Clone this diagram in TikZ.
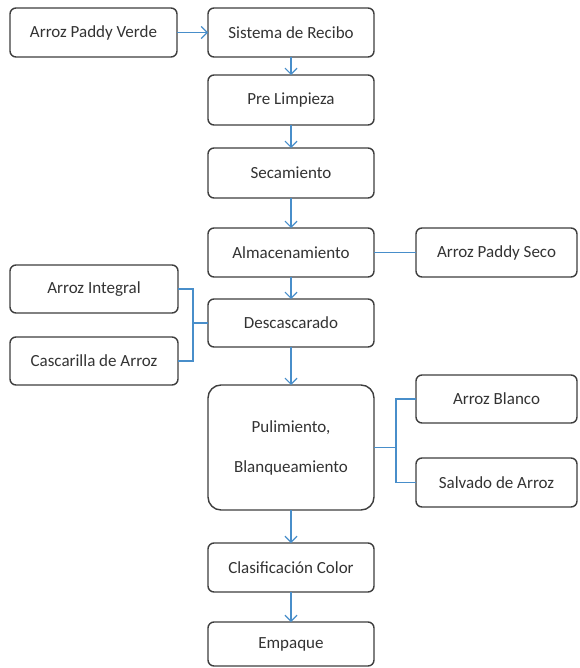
\documentclass[tikz,border=0pt]{standalone}
\usepackage{fontspec}
\setmainfont{Carlito}
\usepackage{tikz}
\usetikzlibrary{arrows.meta, positioning, calc}
\definecolor{marco}{RGB}{62,62,62}
\definecolor{flujo}{RGB}{72,142,202}

\begin{document}
\begin{tikzpicture}[
      x=1pt, y=1pt,
      box/.style={draw=marco, fill=white, rounded corners=6pt, line width=1.4pt,
                  minimum width=166pt, minimum height=49pt, text=black!80,
                  font=\fontsize{17}{20}\selectfont, align=center,
                  inner sep=0pt, outer sep=0pt},
      sidebox/.style={box, minimum width=168pt, minimum height=48pt},
      rbox/.style={box, minimum width=161pt},
      bigbox/.style={box, minimum height=125pt, rounded corners=13pt},
      link/.style={-{Straight Barb[length=6pt,width=12pt,line width=1.2pt]}, flujo, line width=1.3pt},
      plink/.style={flujo, line width=1.3pt}
    ]
    \useasboundingbox (0,0) rectangle (579,-668);

    % columna central
    \node[box] (recibo) at (291,-32.5) {Sistema de Recibo};
    \node[box, below=18pt of recibo, minimum height=50pt] (limpieza) {Pre Limpieza};
    \node[box, below=23pt of limpieza, minimum height=50pt] (secado) {Secamiento};
    \node[box, below=30pt of secado] (almacen) {Almacenamiento};
    \node[box, below=22pt of almacen, minimum height=48pt] (descasc) {Descascarado};
    \node[bigbox, below=38pt of descasc] (pulim)
      {Pulimiento,\\[20pt] Blanqueamiento};
    \node[box, below=33pt of pulim] (clasif) {Clasificación Color};
    \node[box, below=30pt of clasif, minimum height=44pt] (empaque) {Empaque};

    % entradas y salidas
    \node[box, left=31pt of recibo, minimum width=167pt] (verde) {Arroz Paddy Verde};
    \node[rbox, right=42pt of almacen] (seco) {Arroz Paddy Seco};
    \node[sidebox, left=30pt of descasc, yshift=34pt] (integral) {Arroz Integral};
    \node[sidebox, left=30pt of descasc, yshift=-38pt] (cascarilla) {Cascarilla de Arroz};
    \node[rbox, right=42pt of pulim, yshift=48.5pt, minimum height=48pt] (blanco) {Arroz Blanco};
    \node[rbox, right=42pt of pulim, yshift=-35pt] (salvado) {Salvado de Arroz};

    \coordinate (jl) at ($(descasc.west)+(-15pt,0)$);
    \coordinate (jr) at ($(pulim.east)+(22pt,0)$);

    \draw[link] (verde) -- (recibo);
    \draw[link] (recibo) -- (limpieza);
    \draw[link] (limpieza) -- (secado);
    \draw[link] (secado) -- (almacen);
    \draw[link] (almacen) -- (descasc);
    \draw[link] (descasc) -- (pulim);
    \draw[link] (pulim) -- (clasif);
    \draw[link] (clasif) -- (empaque);

    \draw[plink] (almacen) -- (seco);
    \draw[plink] (integral.east) -| (jl) -- (descasc.west);
    \draw[plink] (cascarilla.east) -| (jl);
    \draw[plink] (pulim.east) -- (jr) |- (blanco.west);
    \draw[plink] (jr) |- (salvado.west);
  \end{tikzpicture}
\end{document}
